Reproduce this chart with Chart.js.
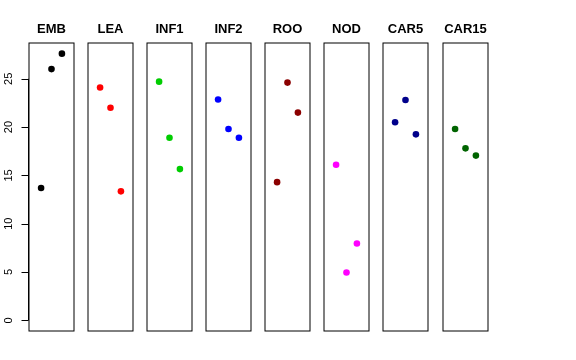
<!DOCTYPE html>
<html>
<head>
<meta charset="utf-8">
<script src="https://cdn.jsdelivr.net/npm/chart.js@4/dist/chart.umd.min.js"></script>
<style>
  html, body { margin: 0; padding: 0; background: #fff; }
  #wrap { position: relative; width: 576px; height: 360px; overflow: hidden; }
  #wrap canvas { position: absolute; top: 0; }
</style>
</head>
<body>
<div id="wrap"></div>
<script>
// panel names and colours
const groups = ['EMB', 'LEA', 'INF1', 'INF2', 'ROO', 'NOD', 'CAR5', 'CAR15'];
const colors = ['#000000', '#FF0000', '#00CD00', '#0000FF', '#8B0000', '#FF00FF', '#00008B', '#006400'];

// three points per panel, x = 1, 2, 3
const xPos = [1, 2, 3];
const emb  = [13.7, 26.0, 27.6];
const lea  = [24.1, 22.0, 13.35];
const inf1 = [24.7, 18.9, 15.65];
const inf2 = [22.85, 19.8, 18.9];
const roo  = [14.3, 24.6, 21.5];
const nod  = [16.1, 4.95, 7.95];
const car5 = [20.5, 22.8, 19.25];
const car15 = [19.8, 17.8, 17.05];
const series = [emb, lea, inf1, inf2, roo, nod, car5, car15];

const yTicks = [0, 5, 10, 15, 20, 25];

const FONT = "'Liberation Sans', Arial, Helvetica, sans-serif";
const panelLeft = [29, 88, 147, 206, 265, 324, 383, 443];
const panelW = 45;
const axisW = 29;

// box round each panel, plus the axis (line, ticks, rotated labels) on the first one
const boxPlugin = {
    id: 'box',
    afterDraw: (chart) => {
        const { ctx, chartArea: a } = chart;
        ctx.save();
        ctx.strokeStyle = '#000';
        ctx.lineWidth = 1;
        ctx.strokeRect(a.left, a.top, a.right - a.left, a.bottom - a.top);
        if (chart.options.scales.y.display) {
            const y = chart.scales.y;
            const x0 = a.left - 0.5;
            ctx.beginPath();
            ctx.moveTo(x0, y.getPixelForValue(yTicks[0]));
            ctx.lineTo(x0, y.getPixelForValue(yTicks[yTicks.length - 1]));
            y.ticks.forEach(t => {
                const py = Math.round(y.getPixelForValue(t.value)) + 0.5;
                ctx.moveTo(x0, py);
                ctx.lineTo(x0 - 7, py);
            });
            ctx.stroke();
            ctx.fillStyle = '#000';
            ctx.font = '11px ' + FONT;
            ctx.textAlign = 'center';
            ctx.textBaseline = 'middle';
            y.ticks.forEach(t => {
                ctx.save();
                ctx.translate(8.5, y.getPixelForValue(t.value));
                ctx.rotate(-Math.PI / 2);
                ctx.fillText(String(t.value), 0, 0);
                ctx.restore();
            });
        }
        ctx.restore();
    }
};

const wrap = document.getElementById('wrap');

groups.forEach((name, i) => {
    const first = i === 0;
    const canvas = document.createElement('canvas');
    const left = first ? 0 : panelLeft[i] - 1;
    const w = first ? axisW + panelW + 1 : panelW + 2;
    canvas.width = w;
    canvas.height = 360;
    canvas.style.left = left + 'px';
    canvas.style.width = w + 'px';
    canvas.style.height = '360px';
    wrap.appendChild(canvas);

    new Chart(canvas.getContext('2d'), {
        type: 'scatter',
        data: {
            datasets: [{
                data: xPos.map((x, k) => ({ x: x, y: series[i][k] })),
                backgroundColor: colors[i],
                borderColor: colors[i],
                pointRadius: 3.3,
                pointBorderWidth: 0
            }]
        },
        options: {
            responsive: false,
            animation: false,
            devicePixelRatio: 1,
            layout: { autoPadding: false, padding: { left: first ? 0 : 1, right: 1, top: 0, bottom: 29 } },
            plugins: {
                legend: { display: false },
                tooltip: { enabled: false },
                title: {
                    display: true,
                    text: name,
                    color: '#000',
                    fullSize: false,
                    font: { family: FONT, size: 13, weight: 'bold' },
                    padding: { top: 21.5, bottom: 5.9 }
                }
            },
            scales: {
                x: { type: 'linear', display: false, min: -0.16, max: 4.16 },
                y: {
                    display: first,
                    min: -1.1,
                    max: 28.7,
                    afterBuildTicks: (s) => { s.ticks = yTicks.map(v => ({ value: v })); },
                    afterFit: (s) => { s.width = first ? axisW : 0; },
                    border: { display: false },
                    grid: { display: false },
                    ticks: { display: false }
                }
            }
        },
        plugins: [boxPlugin]
    });
});
</script>
</body>
</html>
